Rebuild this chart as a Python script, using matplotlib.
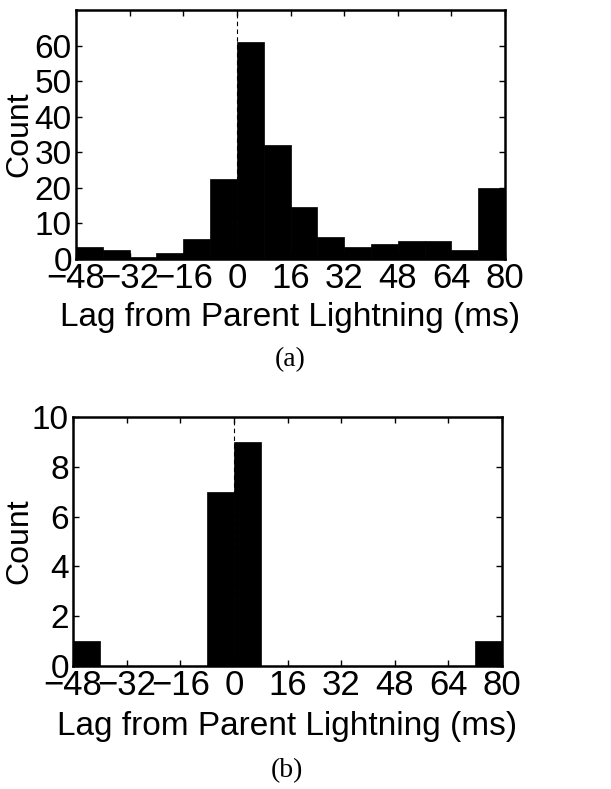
import numpy as np
import matplotlib.pyplot as plt

# Lag bins (ms), left edge of each 8 ms bin
bin_left = [-48, -40, -32, -24, -16, -8, 0, 8, 16, 24, 32, 40, 48, 56, 64, 72]
bin_width = 8

# (a) all events
counts_a = [3.4, 2.4, 0.7, 1.6, 5.6, 22.4, 61, 32, 14.5, 6.3, 3.3, 4.3, 5.0, 5.0, 2.4, 20]
# (b) subset
counts_b = [1, 0, 0, 0, 0, 7, 9, 0, 0, 0, 0, 0, 0, 0, 0, 1]

xticks = [-48, -32, -16, 0, 16, 32, 48, 64, 80]
xtick_labels = ['\u221248', '\u221232', '\u221216', '0', '16', '32', '48', '64', '80']

plt.rcParams['font.family'] = ['Liberation Sans', 'DejaVu Sans']

W, H = 611, 789
fig = plt.figure(figsize=(W / 100, H / 100), dpi=100)


def panel(left, top, counts, ymax, yticks, tag, tag_y, xlabel_y):
    ax = fig.add_axes([left / W, 1 - (top + 249) / H, 429 / W, 249 / H])
    ax.axvline(0, color='black', ls=(0, (4, 3)), lw=0.8, zorder=1)
    ax.bar(bin_left, counts, width=bin_width, align='edge', color='black',
           edgecolor='black', lw=0.5, zorder=2)
    ax.set_xlim(-48, 80)
    ax.set_ylim(0, ymax)
    ax.set_xticks(xticks)
    ax.set_xticklabels(xtick_labels)
    ax.set_yticks(yticks)
    ax.tick_params(direction='in', top=True, right=True, length=4, width=1,
                   labelsize=25, pad=2)
    ax.tick_params(axis='y', labelsize=24, pad=3)
    for s in ax.spines.values():
        s.set_linewidth(1.8)
    # y label placed by hand so it stays inside the figure
    fig.text(19 / W, 1 - (top + 124) / H, 'Count', fontsize=23, rotation=90,
             ha='center', va='center')
    fig.text((left + 214) / W, 1 - xlabel_y / H, 'Lag from Parent Lightning (ms)',
             fontsize=24, ha='center', va='center')
    fig.text((left + 214) / W, 1 - tag_y / H, tag, fontsize=20,
             family='Liberation Serif', ha='center', va='center')
    return ax


panel(76, 10, counts_a, 70, [0, 10, 20, 30, 40, 50, 60], '(a)', 360, 317)
panel(73, 417, counts_b, 10, [0, 2, 4, 6, 8, 10], '(b)', 771, 727)

fig.savefig('out.png', dpi=100)
